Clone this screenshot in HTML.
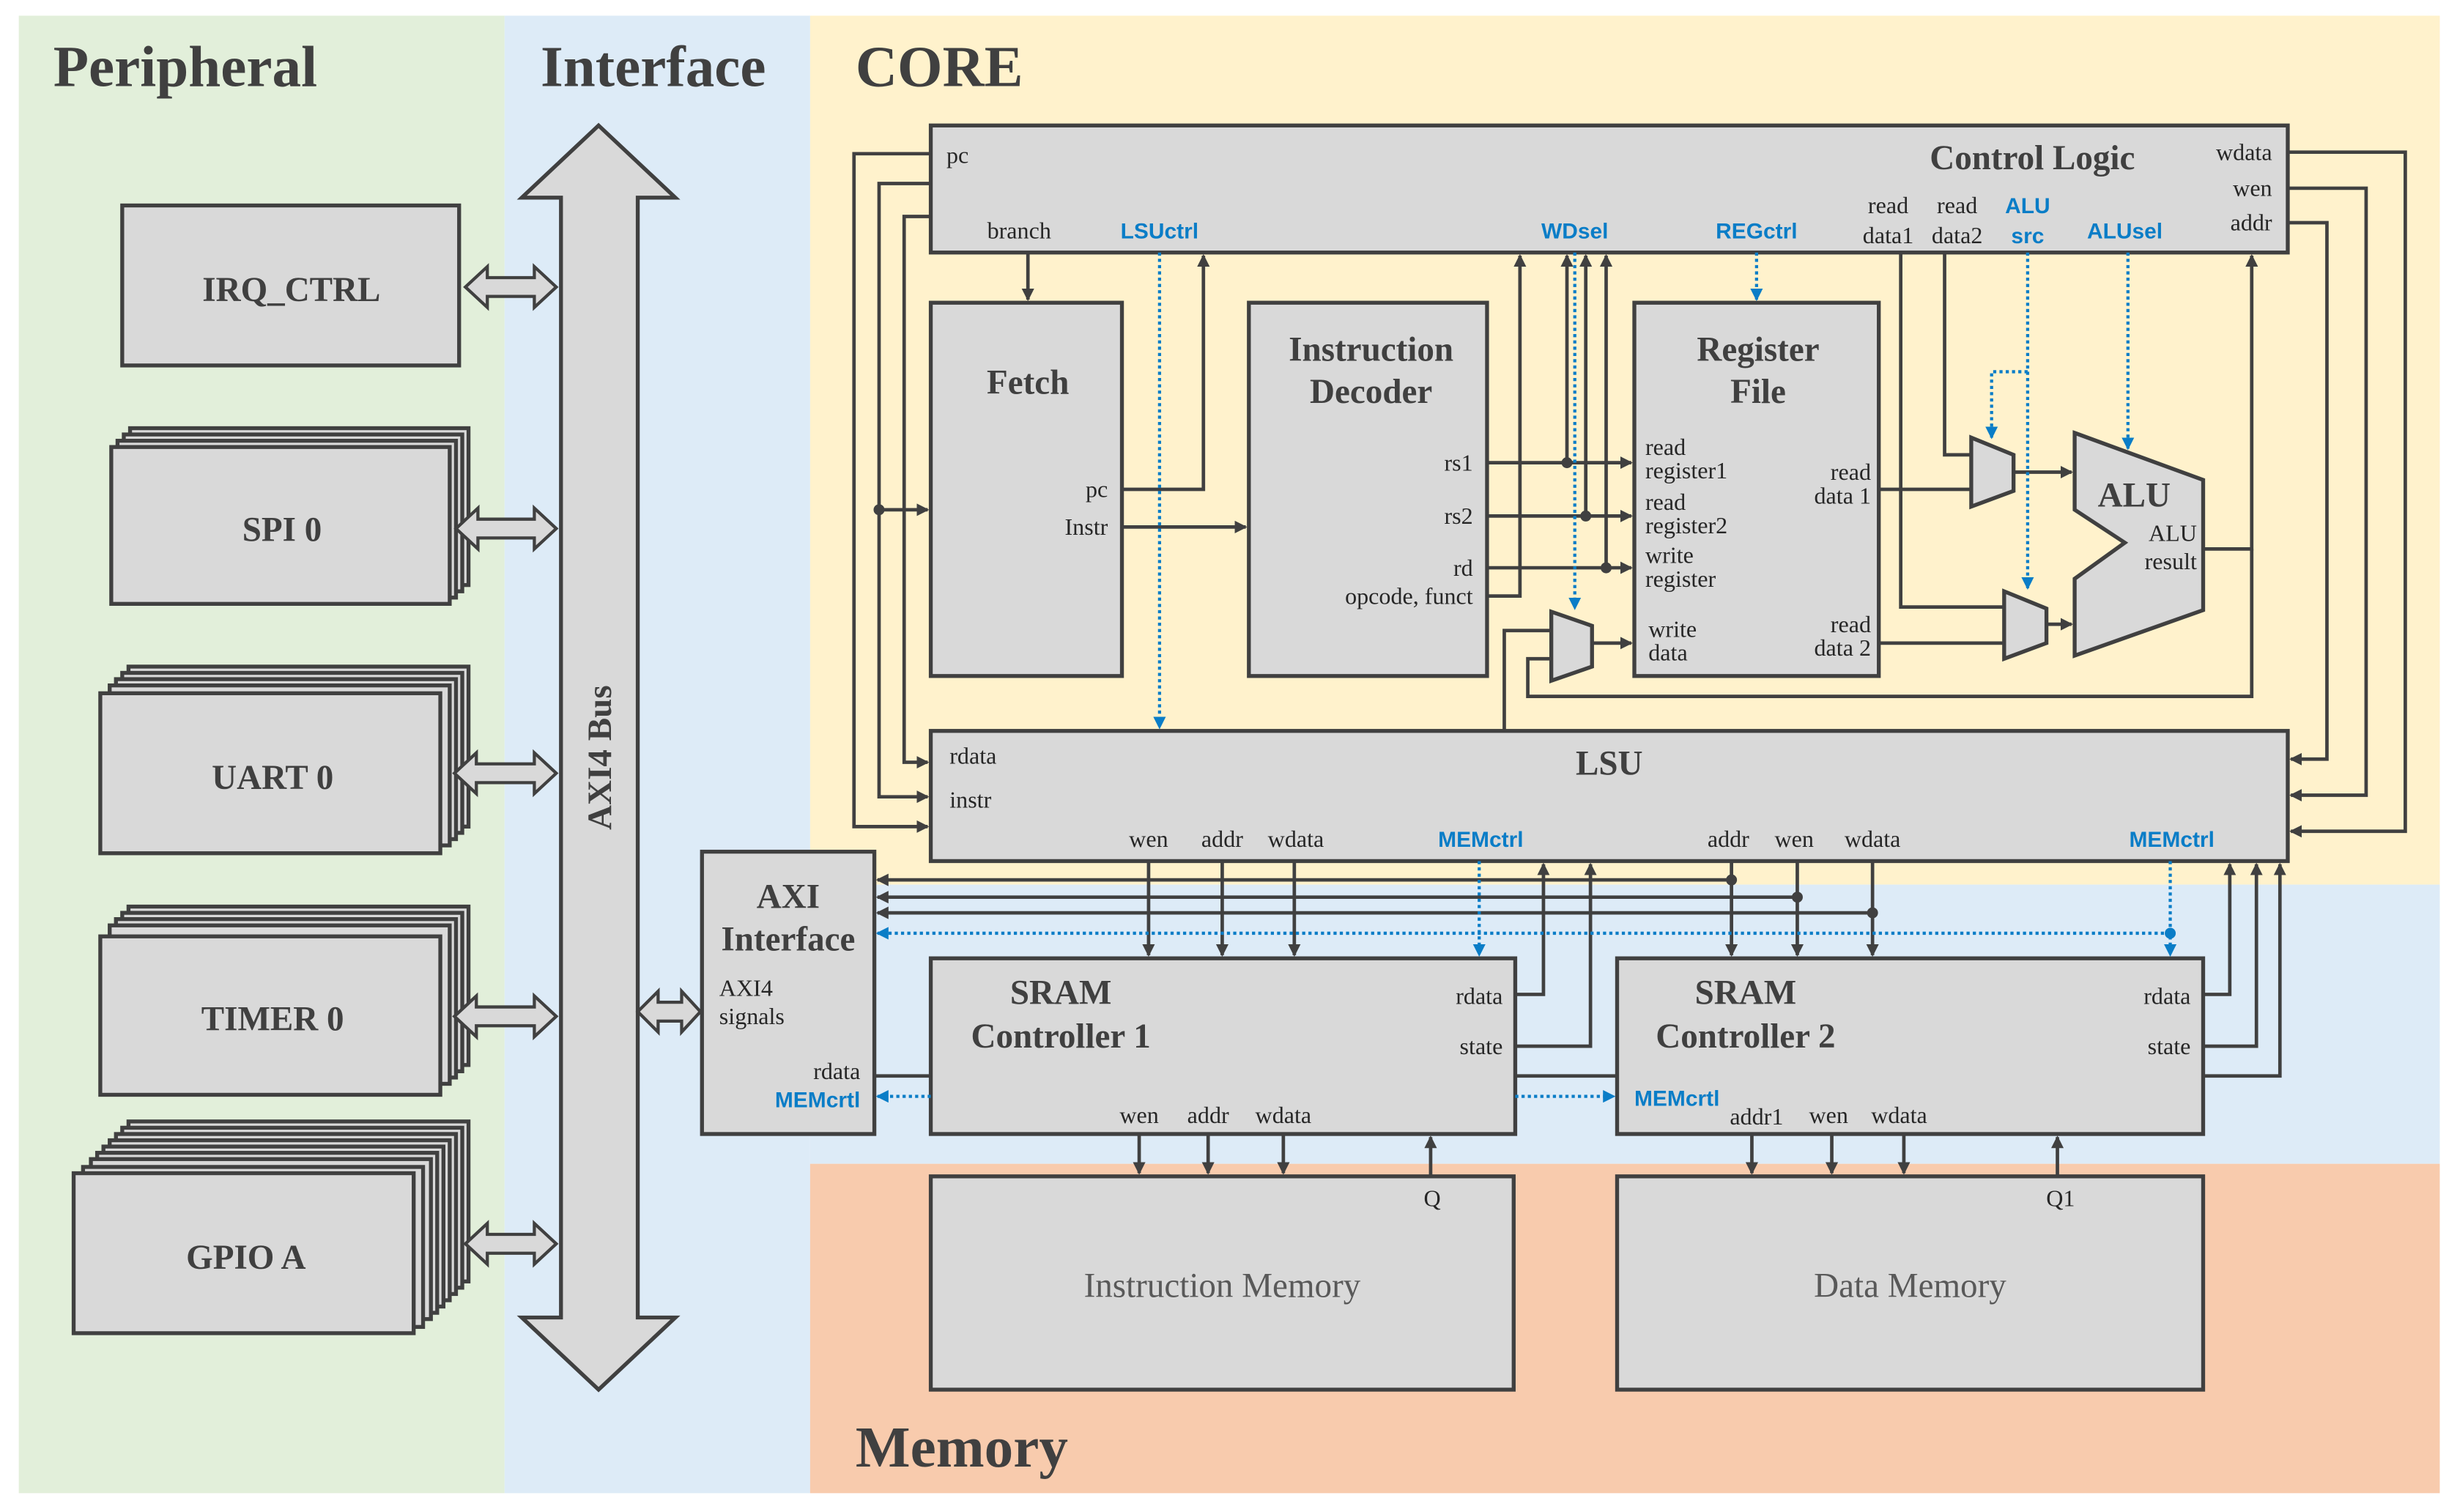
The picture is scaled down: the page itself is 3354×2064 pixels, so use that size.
<!DOCTYPE html>
<html><head><meta charset="utf-8"><style>html,body{margin:0;padding:0;background:#fff}svg{display:block}</style></head>
<body>
<svg xmlns="http://www.w3.org/2000/svg" width="3354" height="2064" viewBox="0 0 1568 964" preserveAspectRatio="none" font-family="Liberation Serif, serif">
<defs>
<marker id="a" markerWidth="8" markerHeight="8" refX="7" refY="4" orient="auto" markerUnits="userSpaceOnUse"><path d="M0,0 L8,4 L0,8 Z" fill="#404040"/></marker>
<marker id="b" markerWidth="8" markerHeight="8" refX="7" refY="4" orient="auto" markerUnits="userSpaceOnUse"><path d="M0,0 L8,4 L0,8 Z" fill="#0a7dc7"/></marker>
</defs>
<rect x="0" y="0" width="1568" height="964" fill="#fff"/>
<rect x="12" y="10" width="310" height="942" fill="#e2efda"/>
<rect x="322" y="10" width="195" height="942" fill="#ddebf7"/>
<rect x="517" y="10" width="1040" height="554" fill="#fff2cc"/>
<rect x="517" y="564" width="1040" height="178" fill="#ddebf7"/>
<rect x="517" y="742" width="1040" height="210" fill="#f8cbad"/>
<g font-weight="bold" fill="#404040" font-size="37">
<text x="34" y="55">Peripheral</text><text x="345" y="55">Interface</text><text x="546" y="55">CORE</text><text x="546" y="935">Memory</text>
</g>
<g fill="#d9d9d9" stroke="#404040" stroke-width="2.5">
<rect x="78" y="131" width="215" height="102"/>
<rect x="83" y="273" width="216" height="100"/><rect x="79" y="277" width="216" height="100"/><rect x="75" y="281" width="216" height="100"/><rect x="71" y="285" width="216" height="100"/>
<rect x="82" y="425" width="217" height="102"/><rect x="78" y="429" width="217" height="102"/><rect x="74" y="433" width="217" height="102"/><rect x="70" y="437" width="217" height="102"/><rect x="64" y="442" width="217" height="102"/>
<rect x="82" y="578" width="217" height="101"/><rect x="78" y="582" width="217" height="101"/><rect x="74" y="586" width="217" height="101"/><rect x="70" y="590" width="217" height="101"/><rect x="64" y="597" width="217" height="101"/>
<rect x="82" y="715" width="217" height="102"/><rect x="78" y="719" width="217" height="102"/><rect x="74" y="723" width="217" height="102"/><rect x="70" y="727" width="217" height="102"/><rect x="66" y="731" width="217" height="102"/><rect x="62" y="735" width="217" height="102"/><rect x="58" y="739" width="217" height="102"/><rect x="53" y="744" width="217" height="102"/><rect x="47" y="748" width="217" height="102"/>
<path d="M382,80 L431,126 L407,126 L407,840 L431,840 L382,886 L333,840 L358,840 L358,126 L333,126 Z"/>
<rect x="448" y="543" width="110" height="180"/>
<rect x="594" y="80" width="866" height="81"/>
<rect x="594" y="466" width="866" height="83"/>
<rect x="594" y="193" width="122" height="238"/>
<rect x="797" y="193" width="152" height="238"/>
<rect x="1043" y="193" width="156" height="238"/>
<path d="M1324,276 L1406,306 L1406,389 L1324,418 L1324,369 L1356,346 L1324,325 Z"/>
<path d="M1258,279 L1285,290 L1285,313 L1258,323 Z"/>
<path d="M1279,377 L1306,388 L1306,410 L1279,420 Z"/>
<path d="M990,390 L1016,399 L1016,425 L990,434 Z"/>
<rect x="594" y="611" width="373" height="112"/>
<rect x="1032" y="611" width="374" height="112"/>
<rect x="594" y="750" width="372" height="136"/>
<rect x="1032" y="750" width="374" height="136"/>
</g>
<g fill="#d9d9d9" stroke="#404040" stroke-width="2">
<path d="M297,183 L311,170 L311,177 L341,177 L341,170 L355,183 L341,196 L341,189 L311,189 L311,196 Z"/>
<path d="M291,337 L305,324 L305,331 L341,331 L341,324 L355,337 L341,350 L341,343 L305,343 L305,350 Z"/>
<path d="M290,493 L304,480 L304,487 L341,487 L341,480 L355,493 L341,506 L341,499 L304,499 L304,506 Z"/>
<path d="M290,648 L304,635 L304,642 L341,642 L341,635 L355,648 L341,661 L341,654 L304,654 L304,661 Z"/>
<path d="M297,793 L311,780 L311,787 L341,787 L341,780 L355,793 L341,806 L341,799 L311,799 L311,806 Z"/>
<path d="M407,645 L420,632 L420,639 L435,639 L435,632 L447,645 L435,658 L435,651 L420,651 L420,658 Z"/>
</g>
<g font-weight="bold" fill="#404040" text-anchor="middle" font-size="22">
<text x="186" y="192">IRQ_CTRL</text><text x="180" y="345">SPI 0</text><text x="174" y="503">UART 0</text><text x="174" y="657">TIMER 0</text><text x="157" y="809">GPIO A</text>
<text x="503" y="579">AXI</text><text x="503" y="606">Interface</text>
<text x="1297" y="108">Control Logic</text>
<text x="1027" y="494">LSU</text>
<text x="656" y="251">Fetch</text>
<text x="875" y="230">Instruction</text><text x="875" y="257">Decoder</text>
<text x="1122" y="230">Register</text><text x="1122" y="257">File</text>
<text x="1362" y="323">ALU</text>
<text x="677" y="640">SRAM</text><text x="677" y="668">Controller 1</text>
<text x="1114" y="640">SRAM</text><text x="1114" y="668">Controller 2</text>
</g>
<text x="390" y="483" transform="rotate(-90 390 483)" font-weight="bold" font-size="22" fill="#404040" text-anchor="middle">AXI4 Bus</text>
<g fill="#595959" font-size="22" text-anchor="middle"><text x="780" y="827">Instruction Memory</text><text x="1219" y="827">Data Memory</text></g>
<g font-size="15" fill="#262626">
<text x="604" y="104">pc</text><text x="630" y="152">branch</text>
<text x="1450" y="102" text-anchor="end">wdata</text><text x="1450" y="125" text-anchor="end">wen</text><text x="1450" y="147" text-anchor="end">addr</text>
<text x="1205" y="136" text-anchor="middle">read</text><text x="1205" y="155" text-anchor="middle">data1</text>
<text x="1249" y="136" text-anchor="middle">read</text><text x="1249" y="155" text-anchor="middle">data2</text>
<text x="707" y="317" text-anchor="end">pc</text><text x="707" y="341" text-anchor="end">Instr</text>
<text x="940" y="300" text-anchor="end">rs1</text><text x="940" y="334" text-anchor="end">rs2</text><text x="940" y="367" text-anchor="end">rd</text><text x="940" y="385" text-anchor="end">opcode, funct</text>
<text x="1050" y="290">read</text><text x="1050" y="305">register1</text><text x="1050" y="325">read</text><text x="1050" y="340">register2</text><text x="1050" y="359">write</text><text x="1050" y="374">register</text>
<text x="1052" y="406">write</text><text x="1052" y="421">data</text>
<text x="1194" y="306" text-anchor="end">read</text><text x="1194" y="321" text-anchor="end">data 1</text>
<text x="1194" y="403" text-anchor="end">read</text><text x="1194" y="418" text-anchor="end">data 2</text>
<text x="1402" y="345" text-anchor="end">ALU</text><text x="1402" y="363" text-anchor="end">result</text>
<text x="606" y="487">rdata</text><text x="606" y="515">instr</text>
<text x="733" y="540" text-anchor="middle">wen</text><text x="780" y="540" text-anchor="middle">addr</text><text x="827" y="540" text-anchor="middle">wdata</text>
<text x="1103" y="540" text-anchor="middle">addr</text><text x="1145" y="540" text-anchor="middle">wen</text><text x="1195" y="540" text-anchor="middle">wdata</text>
<text x="459" y="635">AXI4</text><text x="459" y="653">signals</text><text x="549" y="688" text-anchor="end">rdata</text>
<text x="959" y="640" text-anchor="end">rdata</text><text x="959" y="672" text-anchor="end">state</text>
<text x="1398" y="640" text-anchor="end">rdata</text><text x="1398" y="672" text-anchor="end">state</text>
<text x="727" y="716" text-anchor="middle">wen</text><text x="771" y="716" text-anchor="middle">addr</text><text x="819" y="716" text-anchor="middle">wdata</text>
<text x="1121" y="717" text-anchor="middle">addr1</text><text x="1167" y="716" text-anchor="middle">wen</text><text x="1212" y="716" text-anchor="middle">wdata</text>
<text x="914" y="769" text-anchor="middle">Q</text><text x="1315" y="769" text-anchor="middle">Q1</text>
</g>
<g fill="#0a7dc7" font-weight="bold" font-family="Liberation Sans, sans-serif" font-size="14">
<text x="740" y="152" text-anchor="middle">LSUctrl</text><text x="1005" y="152" text-anchor="middle">WDsel</text><text x="1121" y="152" text-anchor="middle">REGctrl</text>
<text x="1294" y="136" text-anchor="middle">ALU</text><text x="1294" y="155" text-anchor="middle">src</text><text x="1356" y="152" text-anchor="middle">ALUsel</text>
<text x="945" y="540" text-anchor="middle">MEMctrl</text><text x="1386" y="540" text-anchor="middle">MEMctrl</text>
<text x="549" y="706" text-anchor="end">MEMcrtl</text><text x="1043" y="705">MEMcrtl</text>
</g>
<g fill="none" stroke="#404040" stroke-width="2.2">
<path d="M594,98 H545 V527 H592" marker-end="url(#a)"/>
<path d="M594,117 H561 V508 H592" marker-end="url(#a)"/>
<path d="M594,138 H577 V486 H592" marker-end="url(#a)"/>
<path d="M561,325 H592" marker-end="url(#a)"/>
<path d="M656,161 V191" marker-end="url(#a)"/>
<path d="M716,312 H768 V163" marker-end="url(#a)"/>
<path d="M716,336 H795" marker-end="url(#a)"/>
<path d="M949,295 H1041" marker-end="url(#a)"/><path d="M949,329 H1041" marker-end="url(#a)"/><path d="M949,362 H1041" marker-end="url(#a)"/>
<path d="M949,380 H970 V163" marker-end="url(#a)"/>
<path d="M1000,295 V163" marker-end="url(#a)"/><path d="M1012,329 V163" marker-end="url(#a)"/><path d="M1025,362 V163" marker-end="url(#a)"/>
<path d="M1016,410 H1041" marker-end="url(#a)"/>
<path d="M990,402 H960 V466"/><path d="M990,420 H975 V444 H1437 V350"/>
<path d="M1199,312 H1258"/><path d="M1199,410 H1279"/>
<path d="M1213,161 V387 H1279"/><path d="M1241,161 V290 H1258"/>
<path d="M1285,301 H1322" marker-end="url(#a)"/><path d="M1306,398 H1322" marker-end="url(#a)"/>
<path d="M1406,350 H1437 V163" marker-end="url(#a)"/>
<path d="M1460,97 H1535 V530 H1462" marker-end="url(#a)"/>
<path d="M1460,120 H1510 V507 H1462" marker-end="url(#a)"/>
<path d="M1460,142 H1485 V484 H1462" marker-end="url(#a)"/>
<path d="M733,549 V609" marker-end="url(#a)"/><path d="M780,549 V609" marker-end="url(#a)"/><path d="M826,549 V609" marker-end="url(#a)"/>
<path d="M967,634 H985 V551" marker-end="url(#a)"/><path d="M967,667 H1015 V551" marker-end="url(#a)"/>
<path d="M1105,549 V609" marker-end="url(#a)"/><path d="M1147,549 V609" marker-end="url(#a)"/><path d="M1195,549 V609" marker-end="url(#a)"/>
<path d="M1105,561 H560" marker-end="url(#a)"/><path d="M1147,572 H560" marker-end="url(#a)"/><path d="M1195,582 H560" marker-end="url(#a)"/>
<path d="M1406,634 H1423 V551" marker-end="url(#a)"/><path d="M1406,667 H1440 V551" marker-end="url(#a)"/><path d="M1406,686 H1455 V551" marker-end="url(#a)"/>
<path d="M558,686 H594"/><path d="M967,686 H1032"/>
<path d="M727,723 V748" marker-end="url(#a)"/><path d="M771,723 V748" marker-end="url(#a)"/><path d="M819,723 V748" marker-end="url(#a)"/><path d="M913,750 V725" marker-end="url(#a)"/>
<path d="M1118,723 V748" marker-end="url(#a)"/><path d="M1169,723 V748" marker-end="url(#a)"/><path d="M1215,723 V748" marker-end="url(#a)"/><path d="M1313,750 V725" marker-end="url(#a)"/>
</g>
<g fill="#404040"><circle cx="561" cy="325" r="3.5"/><circle cx="1000" cy="295" r="3.5"/><circle cx="1012" cy="329" r="3.5"/><circle cx="1025" cy="362" r="3.5"/><circle cx="1105" cy="561" r="3.5"/><circle cx="1147" cy="572" r="3.5"/><circle cx="1195" cy="582" r="3.5"/></g>
<g fill="none" stroke="#0a7dc7" stroke-width="2" stroke-dasharray="2,2">
<path d="M740,161 V464" marker-end="url(#b)"/>
<path d="M1005,161 V388" marker-end="url(#b)"/>
<path d="M1121,161 V191" marker-end="url(#b)"/>
<path d="M1294,161 V375" marker-end="url(#b)"/>
<path d="M1294,237 H1271 V279" marker-end="url(#b)"/>
<path d="M1358,161 V286" marker-end="url(#b)"/>
<path d="M944,549 V609" marker-end="url(#b)"/>
<path d="M1385,549 V609" marker-end="url(#b)"/>
<path d="M1385,595 H560" marker-end="url(#b)"/>
<path d="M594,699 H560" marker-end="url(#b)"/>
<path d="M967,699 H1030" marker-end="url(#b)"/>
</g>
<circle cx="1385" cy="595" r="3.5" fill="#0a7dc7"/>
</svg>
</body></html>
